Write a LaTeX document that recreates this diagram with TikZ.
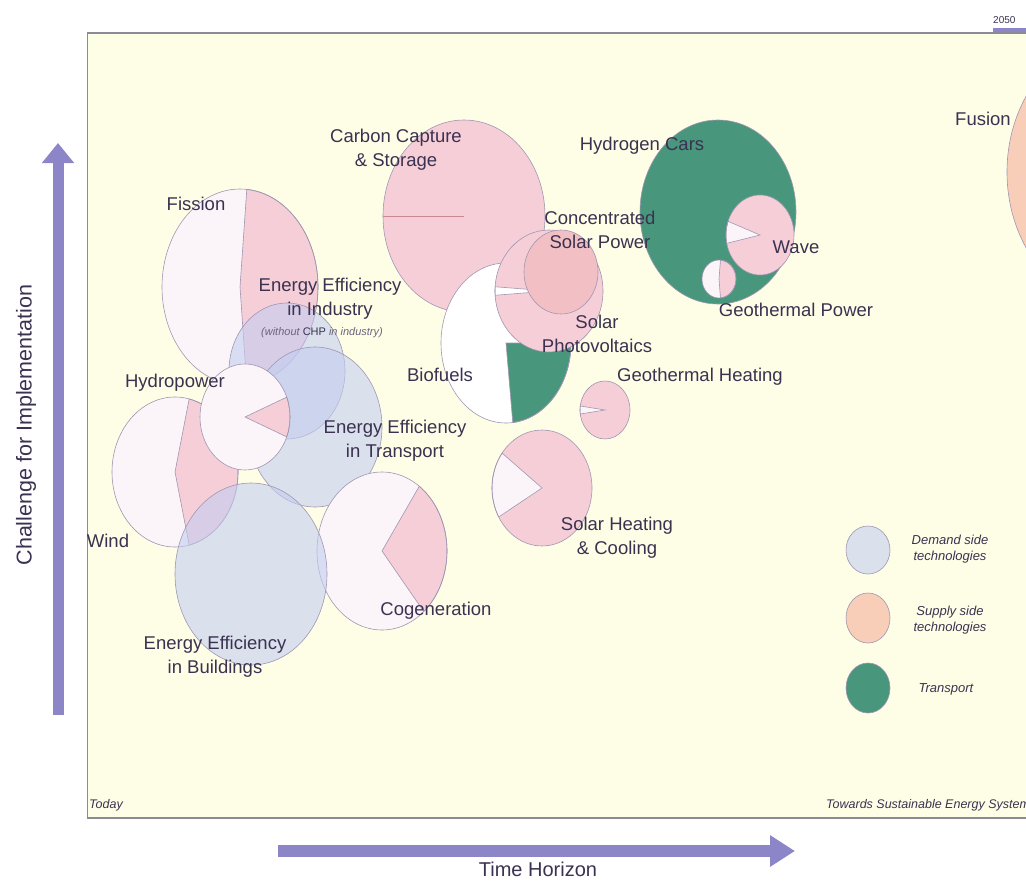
\documentclass[tikz,border=0pt]{standalone}
\usepackage{fontspec}
\setmainfont{Liberation Sans}
\usetikzlibrary{arrows.meta}

\definecolor{bgyellow}{RGB}{254,254,231}
\definecolor{supplypink}{RGB}{246,206,216}
\definecolor{csppink}{RGB}{242,192,196}
\definecolor{palewhite}{RGB}{251,245,249}
\definecolor{demandblue}{RGB}{195,205,240}
\definecolor{transgreen}{RGB}{72,150,124}
\definecolor{peach}{RGB}{248,206,184}
\definecolor{edgegrey}{RGB}{160,150,178}
\definecolor{labeltext}{RGB}{58,50,80}
\definecolor{axisviolet}{RGB}{140,134,200}
\definecolor{framegrey}{RGB}{140,138,150}

\begin{document}
\begin{tikzpicture}[
        x=1pt, y=1pt,
        lbl/.style={font=\fontsize{18.5}{24}\selectfont, text=labeltext, align=center, inner sep=0pt},
        smalllbl/.style={font=\fontsize{11}{13}\selectfont\itshape, text=labeltext!75, inner sep=0pt},
        legendlbl/.style={font=\fontsize{13}{16}\selectfont\itshape, text=labeltext, align=center, inner sep=0pt},
        axislbl/.style={font=\fontsize{21.5}{24}\selectfont, text=labeltext, inner sep=0pt},
        cornerlbl/.style={font=\fontsize{12.5}{14}\selectfont\itshape, text=labeltext, inner sep=0pt},
        rim/.style={draw=edgegrey, line width=0.6pt},
        supply/.style={fill=supplypink},
        blank/.style={fill=palewhite},
        demand/.style={fill=demandblue, fill opacity=0.6},
        transport/.style={fill=transgreen},
        bigarrow/.style={draw=axisviolet, line width=11pt}
    ]
        \useasboundingbox (0,0) rectangle (1026,-881);

        % plot area
        \fill[bgyellow] (87,-33) rectangle (1030,-818);
        \draw[framegrey, line width=1.2pt] (87,-33) -- (1030,-33);
        \draw[framegrey, line width=0.8pt] (87,-33) -- (87,-818);
        \draw[framegrey, line width=1.8pt] (87,-818) -- (1030,-818);
        \fill[axisviolet] (993,-28) rectangle (1030,-32);
        \node[font=\fontsize{10}{12}\selectfont, text=labeltext, anchor=west, inner sep=0pt] (yearlbl) at (993,-20) {2050};

        % supply side and transport circles
        \filldraw[supply, rim] (464,-216) ellipse [x radius=81, y radius=96];
        \draw[draw=supplypink!70!red!60!gray, line width=0.6pt] (464,-216) -- (383,-216);

        \fill[blank] (240,-287) ellipse [x radius=78, y radius=98];
        \filldraw[supply, rim] (240,-287) -- ++(-85:78 and 98) arc[start angle=-85, end angle=85, x radius=78, y radius=98] -- cycle;
        \draw[rim] (240,-287) ellipse [x radius=78, y radius=98];

        \fill[blank] (175,-472) ellipse [x radius=63, y radius=75];
        \filldraw[supply, rim] (175,-472) -- ++(-77:63 and 75) arc[start angle=-77, end angle=77, x radius=63, y radius=75] -- cycle;
        \draw[rim] (175,-472) ellipse [x radius=63, y radius=75];

        % demand side, first two
        \fill[demand] (287,-371) ellipse [x radius=58, y radius=68];
        \draw[rim] (287,-371) ellipse [x radius=58, y radius=68];
        \fill[demand] (315,-427) ellipse [x radius=67, y radius=80];
        \draw[rim] (315,-427) ellipse [x radius=67, y radius=80];

        \fill[blank] (245,-417) ellipse [x radius=45, y radius=53];
        \filldraw[supply, rim] (245,-417) -- ++(-22:45 and 53) arc[start angle=-22, end angle=22, x radius=45, y radius=53] -- cycle;
        \draw[rim] (245,-417) ellipse [x radius=45, y radius=53];

        \fill[blank] (382,-551) ellipse [x radius=65, y radius=79];
        \filldraw[supply, rim] (382,-551) -- ++(-50:65 and 79) arc[start angle=-50, end angle=55, x radius=65, y radius=79] -- cycle;
        \draw[rim] (382,-551) ellipse [x radius=65, y radius=79];

        \fill[demand] (251,-574) ellipse [x radius=76, y radius=91];
        \draw[rim] (251,-574) ellipse [x radius=76, y radius=91];

        \fill[white] (506,-343) ellipse [x radius=65, y radius=80];
        \filldraw[transport, rim] (506,-343) -- ++(-84:65 and 80) arc[start angle=-84, end angle=0, x radius=65, y radius=80] -- cycle;
        \draw[rim] (506,-343) ellipse [x radius=65, y radius=80];

        \fill[supply] (549,-291) ellipse [x radius=54, y radius=61];
        \filldraw[fill=white, rim] (549,-291) -- ++(176:54 and 61) arc[start angle=176, end angle=184, x radius=54, y radius=61] -- cycle;
        \draw[rim] (549,-291) ellipse [x radius=54, y radius=61];
        \filldraw[fill=csppink, rim] (561,-272) ellipse [x radius=37, y radius=42];

        \filldraw[transport, rim] (718,-212) ellipse [x radius=78, y radius=92];

        \fill[supply] (760,-235) ellipse [x radius=34, y radius=40];
        \filldraw[fill=palewhite, rim] (760,-235) -- ++(160:34 and 40) arc[start angle=160, end angle=192, x radius=34, y radius=40] -- cycle;
        \draw[rim] (760,-235) ellipse [x radius=34, y radius=40];

        \fill[blank] (719,-279) ellipse [x radius=17, y radius=19];
        \filldraw[supply, rim] (719,-279) -- ++(-85:17 and 19) arc[start angle=-85, end angle=85, x radius=17, y radius=19] -- cycle;
        \draw[rim] (719,-279) ellipse [x radius=17, y radius=19];

        \fill[supply] (605,-410) ellipse [x radius=25, y radius=29];
        \filldraw[fill=palewhite, rim] (605,-410) -- ++(172:25 and 29) arc[start angle=172, end angle=188, x radius=25, y radius=29] -- cycle;
        \draw[rim] (605,-410) ellipse [x radius=25, y radius=29];

        \fill[supply] (542,-488) ellipse [x radius=50, y radius=58];
        \filldraw[fill=palewhite, rim] (542,-488) -- ++(143:50 and 58) arc[start angle=143, end angle=210, x radius=50, y radius=58] -- cycle;
        \draw[rim] (542,-488) ellipse [x radius=50, y radius=58];

        \filldraw[fill=peach, rim] (1127,-172) ellipse [x radius=120, y radius=140];

        % labels
        \node[lbl] (ccslbl) at (396,-150) {Carbon Capture\\\& Storage};
        \node[lbl] (h2lbl) at (642,-146) {Hydrogen Cars};
        \node[lbl] (fislbl) at (196,-204) {Fission};
        \node[lbl] (csplbl) at (600,-230) {Concentrated\\Solar Power};
        \node[lbl] (wavelbl) at (796,-247) {Wave};
        \node[lbl] (gplbl) at (796,-310) {Geothermal Power};
        \node[lbl] (eeilbl) at (330,-299) {Energy Efficiency\\in Industry};
        \node[smalllbl] (chplbl) at (322,-333) {(without {\upshape\color{labeltext}CHP} in industry)};
        \node[lbl] (pvlbl) at (597,-334) {Solar\\Photovoltaics};
        \node[lbl] (biolbl) at (440,-375) {Biofuels};
        \node[lbl] (ghlbl) at (700,-377) {Geothermal Heating};
        \node[lbl] (hydlbl) at (175,-383) {Hydropower};
        \node[lbl] (eetlbl) at (395,-441) {Energy Efficiency\\in Transport};
        \node[lbl] (shclbl) at (617,-538) {Solar Heating\\\& Cooling};
        \node[lbl] (windlbl) at (108,-541) {Wind};
        \node[lbl] (coglbl) at (436,-611) {Cogeneration};
        \node[lbl] (eeblbl) at (215,-657) {Energy Efficiency\\in Buildings};
        \node[lbl] (fuslbl) at (983,-119) {Fusion};

        % legend
        \fill[demand] (868,-550) ellipse [x radius=22, y radius=24];
        \draw[rim] (868,-550) ellipse [x radius=22, y radius=24];
        \filldraw[fill=peach, rim] (868,-618) ellipse [x radius=22, y radius=25];
        \filldraw[transport, rim] (868,-688) ellipse [x radius=22, y radius=25];
        \node[legendlbl] (demandlbl) at (950,-549) {Demand side\\technologies};
        \node[legendlbl] (supplylbl) at (950,-620) {Supply side\\technologies};
        \node[legendlbl] (translbl) at (946,-689) {Transport};

        \node[cornerlbl, anchor=west] (todaylbl) at (89,-805) {Today};
        \node[cornerlbl, anchor=west] (towardslbl) at (826,-805) {Towards Sustainable Energy Systems};

        % axes
        \coordinate (vbase) at (58,-715);
        \coordinate (vtip) at (58,-143);
        \draw[bigarrow, -{Triangle[width=31pt,length=20pt]}] (vbase) -- (vtip);
        \node[axislbl, rotate=90] (challenge) at (26,-425) {Challenge for Implementation};

        \coordinate (hbase) at (278,-851);
        \coordinate (htip) at (795,-851);
        \draw[bigarrow, line width=12pt, -{Triangle[width=30pt,length=25pt]}] (hbase) -- (htip);
        \node[axislbl, font=\fontsize{20}{22}\selectfont] (timelbl) at (538,-869) {Time Horizon};
    \end{tikzpicture}
\end{document}
